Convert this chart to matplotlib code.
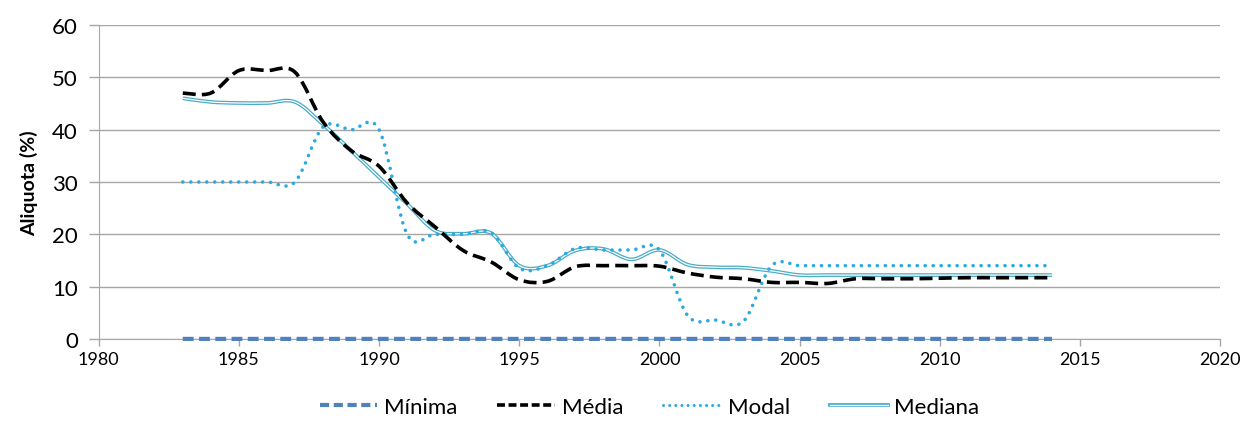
import matplotlib
matplotlib.use("Agg")
import matplotlib.pyplot as plt
from matplotlib.path import Path
from matplotlib.patches import PathPatch
from matplotlib.lines import Line2D
from matplotlib.legend_handler import HandlerTuple

plt.rcParams['font.family'] = ['Lato', 'DejaVu Sans']

anos = list(range(1983, 2015))

minima = [0] * 32
media = [47, 47, 51.3, 51.3, 51, 41.5, 36, 33, 26, 21.4, 16.9, 14.7, 11.3, 11, 13.8, 14,
         14, 13.9, 12.6, 11.8, 11.5, 10.8, 10.8, 10.6, 11.5, 11.5, 11.5, 11.6, 11.7, 11.7, 11.7, 11.7]
modal = [30, 30, 30, 30, 30, 40.5, 40, 40, 20, 20, 20, 20.3, 13.5, 14, 17.3, 17,
         17, 17, 4.5, 3.6, 3.4, 14, 14, 14, 14, 14, 14, 14, 14, 14, 14, 14]
mediana = [46, 45.3, 45.1, 45.1, 45.3, 41, 36, 30.9, 25.8, 20.7, 20.1, 20.2, 14, 14, 16.9, 17.2,
           15.2, 17, 14.2, 13.7, 13.6, 13, 12.2, 12.2, 12.2, 12.2, 12.2, 12.2, 12.2, 12.2, 12.2, 12.2]


def suave(x, y):
    # curva suavizada tipo Excel (Catmull-Rom -> Bezier)
    n = len(x)
    verts = [(x[0], y[0])]
    codes = [Path.MOVETO]
    for i in range(n - 1):
        x0, y0 = (x[i - 1], y[i - 1]) if i > 0 else (x[i], y[i])
        x3, y3 = (x[i + 2], y[i + 2]) if i + 2 < n else (x[i + 1], y[i + 1])
        c1 = (x[i] + (x[i + 1] - x0) / 6, y[i] + (y[i + 1] - y0) / 6)
        c2 = (x[i + 1] - (x3 - x[i]) / 6, y[i + 1] - (y3 - y[i]) / 6)
        verts += [c1, c2, (x[i + 1], y[i + 1])]
        codes += [Path.CURVE4] * 3
    return Path(verts, codes)


fig = plt.figure(figsize=(12.49, 4.27), dpi=100)
ax = fig.add_axes([0.079, 0.204, 0.898, 0.735])

cinza = '#A6A6A6'
c_min = '#4F81BD'
c_modal = '#29ABE2'
c_med = '#4BACC6'

ax.add_patch(PathPatch(suave(anos, minima), fill=False, color=c_min, lw=3,
                       linestyle=(0, (2.6, 1.3)), capstyle='butt', zorder=3, clip_on=False))
ax.add_patch(PathPatch(suave(anos, mediana), fill=False, color=c_med, lw=2.7, zorder=4))
ax.add_patch(PathPatch(suave(anos, mediana), fill=False, color='white', lw=0.9, zorder=5))
ax.add_patch(PathPatch(suave(anos, modal), fill=False, color=c_modal, lw=2.6,
                       linestyle=(0, (0.01, 2.2)), capstyle='round', zorder=6))
ax.add_patch(PathPatch(suave(anos, media), fill=False, color='black', lw=2.6,
                       linestyle=(0, (3.6, 1.7)), capstyle='butt', zorder=7))

ax.set_xlim(1980, 2020)
ax.set_ylim(0, 60)
ax.set_xticks(range(1980, 2021, 5))
ax.set_yticks(range(0, 61, 10))
ax.grid(axis='y', color=cinza, lw=1)
ax.set_axisbelow(True)
for s in ['top', 'right']:
    ax.spines[s].set_visible(False)
for s in ['left', 'bottom']:
    ax.spines[s].set_color(cinza)
ax.tick_params(axis='y', labelsize=16, color=cinza, length=7, width=1, pad=8)
ax.tick_params(axis='x', labelsize=13, color=cinza, length=5, width=1, pad=4)
ax.set_ylabel('Aliquota (%)', fontsize=14, fontweight='bold', labelpad=10)

h_outer = Line2D([], [], color=c_med, lw=2.7)
h_inner = Line2D([], [], color='white', lw=0.9)
handles = [
    Line2D([], [], color=c_min, lw=3, linestyle=(0, (2.2, 1.1))),
    Line2D([], [], color='black', lw=2.6, linestyle=(0, (2.2, 1.0))),
    Line2D([], [], color=c_modal, lw=2.2, linestyle=(0, (0.01, 2.0)), dash_capstyle='round'),
    (h_outer, h_inner),
]
fig.legend(handles, ['Mínima', 'Média', 'Modal', 'Mediana'], loc='center',
           bbox_to_anchor=(0.52, 0.045), ncol=4, frameon=False, fontsize=16,
           handlelength=2.6, columnspacing=1.8, handletextpad=0.3,
           handler_map={tuple: HandlerTuple(ndivide=1, pad=0)})

fig.savefig('out.png', dpi=100)
